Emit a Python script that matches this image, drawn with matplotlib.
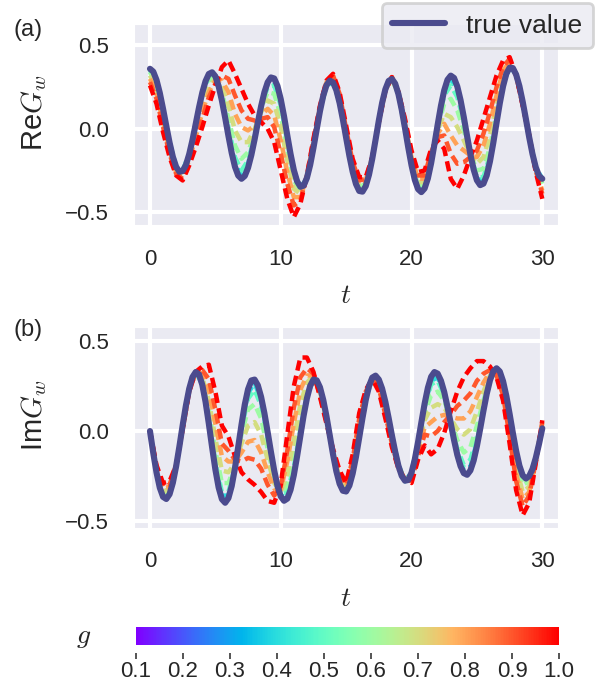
import matplotlib
matplotlib.use("Agg")
import matplotlib.pyplot as plt
import matplotlib.transforms as mtransforms
import seaborn as sns
import numpy as np

sns.set_style("darkgrid")
plt.rcParams["font.family"] = ["Liberation Sans", "DejaVu Sans"]
plt.rcParams["mathtext.fontset"] = "cm"

# time grids: fine one for the true value, coarser one for the dashed curves
t_fine = np.linspace(0, 30, 121)
t = np.linspace(0, 30, 61)

# colour parameter of the dashed curves
g_vals = [0.4, 0.5, 0.6, 0.7, 0.8, 0.9, 1.0]

# --- Re G_w ---
re_true = [0.360, 0.343, 0.293, 0.216, 0.120, 0.017, -0.083, -0.168, -0.228, -0.258,
           -0.253, -0.217, -0.152, -0.067, 0.030, 0.128, 0.217, 0.286, 0.329, 0.339,
           0.315, 0.256, 0.169, 0.066, -0.043, -0.145, -0.228, -0.281, -0.300, -0.283,
           -0.234, -0.158, -0.064, 0.038, 0.136, 0.219, 0.279, 0.308, 0.302, 0.257,
           0.178, 0.076, -0.039, -0.151, -0.247, -0.315, -0.348, -0.341, -0.295, -0.217,
           -0.115, -0.003, 0.106, 0.198, 0.262, 0.289, 0.278, 0.232, 0.155, 0.056,
           -0.054, -0.163, -0.258, -0.331, -0.373, -0.377, -0.344, -0.275, -0.179, -0.066,
           0.050, 0.155, 0.237, 0.287, 0.299, 0.271, 0.208, 0.115, 0.004, -0.112,
           -0.219, -0.306, -0.362, -0.380, -0.358, -0.298, -0.206, -0.094, 0.025, 0.138,
           0.231, 0.294, 0.319, 0.305, 0.254, 0.172, 0.069, -0.044, -0.153, -0.244,
           -0.309, -0.338, -0.329, -0.280, -0.195, -0.086, 0.035, 0.153, 0.255, 0.330,
           0.367, 0.364, 0.325, 0.256, 0.163, 0.057, -0.052, -0.151, -0.231, -0.282,
           -0.300]
re_g04 = [0.36, 0.28, 0.11, -0.08, -0.23, -0.25, -0.15, 0.02, 0.21, 0.32,
          0.32, 0.18, -0.02, -0.21, -0.28, -0.21, -0.05, 0.14, 0.27, 0.28,
          0.16, -0.06, -0.26, -0.35, -0.30, -0.12, 0.11, 0.26, 0.28, 0.16,
          -0.05, -0.26, -0.37, -0.34, -0.18, 0.05, 0.24, 0.30, 0.21, 0.00,
          -0.22, -0.36, -0.36, -0.21, 0.03, 0.22, 0.30, 0.23, 0.06, -0.15,
          -0.30, -0.31, -0.18, 0.05, 0.27, 0.37, 0.33, 0.16, -0.05, -0.23, -0.30]
re_g05 = [0.35, 0.28, 0.11, -0.09, -0.24, -0.26, -0.16, 0.02, 0.20, 0.31,
          0.31, 0.19, 0.01, -0.17, -0.25, -0.19, -0.05, 0.13, 0.25, 0.26,
          0.14, -0.08, -0.28, -0.36, -0.30, -0.11, 0.11, 0.26, 0.29, 0.17,
          -0.04, -0.25, -0.36, -0.33, -0.18, 0.05, 0.24, 0.30, 0.21, 0.01,
          -0.21, -0.35, -0.35, -0.20, 0.02, 0.20, 0.26, 0.19, 0.04, -0.15,
          -0.29, -0.29, -0.16, 0.07, 0.28, 0.38, 0.33, 0.16, -0.05, -0.23, -0.31]
re_g06 = [0.34, 0.26, 0.09, -0.10, -0.24, -0.26, -0.17, 0.00, 0.17, 0.29,
          0.31, 0.22, 0.06, -0.10, -0.18, -0.14, -0.03, 0.12, 0.22, 0.21,
          0.08, -0.13, -0.31, -0.37, -0.30, -0.11, 0.12, 0.27, 0.29, 0.17,
          -0.03, -0.24, -0.35, -0.33, -0.18, 0.05, 0.24, 0.30, 0.21, 0.01,
          -0.20, -0.34, -0.33, -0.19, 0.01, 0.15, 0.18, 0.11, -0.01, -0.15,
          -0.25, -0.24, -0.11, 0.10, 0.29, 0.38, 0.33, 0.16, -0.05, -0.24, -0.33]
re_g07 = [0.32, 0.23, 0.06, -0.12, -0.25, -0.27, -0.18, -0.03, 0.14, 0.25,
          0.30, 0.25, 0.14, -0.01, -0.08, -0.08, 0.00, 0.10, 0.17, 0.15,
          0.01, -0.19, -0.36, -0.39, -0.29, -0.10, 0.12, 0.27, 0.30, 0.18,
          -0.02, -0.23, -0.34, -0.32, -0.18, 0.05, 0.24, 0.30, 0.21, 0.02,
          -0.18, -0.32, -0.32, -0.17, -0.01, 0.09, 0.07, 0.01, -0.07, -0.16,
          -0.21, -0.17, -0.04, 0.15, 0.32, 0.39, 0.33, 0.15, -0.05, -0.24, -0.35]
re_g08 = [0.30, 0.21, 0.04, -0.13, -0.26, -0.28, -0.19, -0.05, 0.10, 0.22,
          0.29, 0.29, 0.22, 0.09, 0.01, -0.01, 0.02, 0.08, 0.12, 0.08,
          -0.07, -0.26, -0.41, -0.41, -0.29, -0.09, 0.13, 0.28, 0.31, 0.19,
          -0.01, -0.21, -0.32, -0.31, -0.17, 0.04, 0.23, 0.31, 0.22, 0.03,
          -0.17, -0.30, -0.30, -0.16, -0.03, 0.03, -0.04, -0.10, -0.13, -0.16,
          -0.17, -0.10, 0.03, 0.20, 0.35, 0.40, 0.32, 0.15, -0.04, -0.25, -0.37]
re_g09 = [0.28, 0.18, 0.01, -0.15, -0.27, -0.30, -0.20, -0.08, 0.06, 0.19,
          0.27, 0.32, 0.30, 0.20, 0.11, 0.06, 0.05, 0.06, 0.07, 0.01,
          -0.15, -0.33, -0.46, -0.43, -0.28, -0.07, 0.13, 0.28, 0.32, 0.21,
          0.00, -0.20, -0.31, -0.30, -0.17, 0.04, 0.23, 0.31, 0.22, 0.05,
          -0.15, -0.28, -0.28, -0.14, -0.05, -0.04, -0.15, -0.21, -0.20, -0.17,
          -0.13, -0.03, 0.10, 0.25, 0.37, 0.42, 0.32, 0.14, -0.04, -0.25, -0.39]
re_g10 = [0.26, 0.15, -0.02, -0.17, -0.28, -0.31, -0.22, -0.11, 0.01, 0.14,
          0.26, 0.37, 0.41, 0.33, 0.24, 0.15, 0.08, 0.04, 0.00, -0.08,
          -0.25, -0.42, -0.53, -0.45, -0.28, -0.06, 0.14, 0.29, 0.33, 0.22,
          0.02, -0.18, -0.29, -0.29, -0.17, 0.04, 0.23, 0.31, 0.22, 0.06,
          -0.13, -0.26, -0.25, -0.12, -0.07, -0.12, -0.30, -0.36, -0.28, -0.17,
          -0.07, 0.06, 0.19, 0.32, 0.41, 0.43, 0.32, 0.14, -0.04, -0.26, -0.42]

# --- Im G_w ---
im_true = [0.000, -0.122, -0.231, -0.316, -0.367, -0.379, -0.352, -0.289, -0.197, -0.086,
           0.032, 0.143, 0.236, 0.301, 0.329, 0.316, 0.258, 0.163, 0.041, -0.090,
           -0.214, -0.315, -0.380, -0.400, -0.374, -0.307, -0.207, -0.087, 0.036, 0.148,
           0.233, 0.282, 0.287, 0.255, 0.190, 0.100, -0.006, -0.116, -0.220, -0.306,
           -0.364, -0.389, -0.377, -0.328, -0.246, -0.141, -0.027, 0.086, 0.182, 0.252,
           0.287, 0.283, 0.244, 0.174, 0.081, -0.025, -0.131, -0.224, -0.294, -0.333,
           -0.337, -0.304, -0.237, -0.145, -0.037, 0.072, 0.173, 0.251, 0.298, 0.309,
           0.287, 0.237, 0.163, 0.073, -0.024, -0.115, -0.194, -0.250, -0.277, -0.273,
           -0.232, -0.158, -0.061, 0.047, 0.152, 0.241, 0.303, 0.329, 0.320, 0.281,
           0.218, 0.135, 0.043, -0.050, -0.133, -0.196, -0.235, -0.244, -0.220, -0.165,
           -0.084, 0.012, 0.113, 0.207, 0.283, 0.333, 0.350, 0.332, 0.278, 0.196,
           0.096, -0.011, -0.111, -0.193, -0.247, -0.265, -0.251, -0.212, -0.150, -0.072,
           0.015]
im_g04 = [0.00, -0.23, -0.37, -0.35, -0.20, 0.03, 0.24, 0.33, 0.26, 0.05,
          -0.19, -0.36, -0.36, -0.21, 0.03, 0.21, 0.27, 0.17, -0.03, -0.23,
          -0.36, -0.37, -0.23, -0.01, 0.19, 0.29, 0.24, 0.08, -0.13, -0.29,
          -0.34, -0.24, -0.03, 0.17, 0.30, 0.29, 0.16, -0.02, -0.19, -0.28,
          -0.23, -0.06, 0.14, 0.28, 0.30, 0.21, 0.04, -0.12, -0.22, -0.20,
          -0.06, 0.12, 0.28, 0.35, 0.28, 0.09, -0.12, -0.26, -0.26, -0.15, 0.02]
im_g05 = [0.00, -0.23, -0.36, -0.34, -0.20, 0.03, 0.24, 0.33, 0.27, 0.07,
          -0.17, -0.34, -0.34, -0.20, 0.01, 0.18, 0.23, 0.14, -0.05, -0.24,
          -0.35, -0.34, -0.20, 0.01, 0.20, 0.29, 0.24, 0.08, -0.13, -0.28,
          -0.33, -0.23, -0.03, 0.18, 0.30, 0.28, 0.15, -0.03, -0.19, -0.28,
          -0.24, -0.07, 0.13, 0.26, 0.28, 0.20, 0.05, -0.10, -0.19, -0.16,
          -0.03, 0.14, 0.29, 0.35, 0.27, 0.08, -0.13, -0.27, -0.27, -0.15, 0.02]
im_g06 = [0.00, -0.22, -0.35, -0.33, -0.20, 0.03, 0.24, 0.33, 0.28, 0.12,
          -0.11, -0.29, -0.29, -0.19, -0.02, 0.12, 0.15, 0.07, -0.10, -0.26,
          -0.35, -0.30, -0.14, 0.07, 0.23, 0.30, 0.23, 0.07, -0.12, -0.27,
          -0.33, -0.21, -0.01, 0.18, 0.30, 0.27, 0.14, -0.04, -0.19, -0.28,
          -0.24, -0.08, 0.10, 0.20, 0.22, 0.17, 0.06, -0.05, -0.12, -0.09,
          0.03, 0.17, 0.30, 0.34, 0.25, 0.06, -0.16, -0.30, -0.28, -0.16, 0.03]
im_g07 = [0.00, -0.21, -0.34, -0.32, -0.20, 0.02, 0.23, 0.33, 0.30, 0.17,
          -0.04, -0.22, -0.23, -0.18, -0.07, 0.03, 0.05, -0.02, -0.16, -0.29,
          -0.34, -0.24, -0.05, 0.15, 0.27, 0.31, 0.22, 0.06, -0.12, -0.26,
          -0.32, -0.20, 0.02, 0.19, 0.30, 0.26, 0.12, -0.05, -0.20, -0.28,
          -0.25, -0.10, 0.06, 0.13, 0.15, 0.13, 0.07, 0.01, -0.02, 0.01,
          0.11, 0.22, 0.31, 0.33, 0.24, 0.03, -0.20, -0.34, -0.31, -0.16, 0.04]
im_g08 = [0.00, -0.21, -0.32, -0.31, -0.19, 0.02, 0.23, 0.33, 0.32, 0.23,
          0.04, -0.14, -0.17, -0.17, -0.12, -0.06, -0.05, -0.12, -0.23, -0.32,
          -0.33, -0.17, 0.04, 0.23, 0.31, 0.31, 0.21, 0.06, -0.11, -0.25,
          -0.31, -0.18, 0.04, 0.20, 0.29, 0.25, 0.11, -0.06, -0.20, -0.27,
          -0.26, -0.12, 0.02, 0.05, 0.08, 0.09, 0.08, 0.07, 0.07, 0.11,
          0.19, 0.27, 0.33, 0.32, 0.22, 0.00, -0.24, -0.38, -0.34, -0.17, 0.04]
im_g09 = [0.00, -0.20, -0.31, -0.30, -0.19, 0.01, 0.22, 0.33, 0.34, 0.29,
          0.12, -0.07, -0.11, -0.16, -0.17, -0.15, -0.16, -0.21, -0.30, -0.36,
          -0.31, -0.11, 0.13, 0.30, 0.35, 0.32, 0.20, 0.05, -0.11, -0.24,
          -0.30, -0.16, 0.07, 0.22, 0.29, 0.24, 0.09, -0.07, -0.21, -0.27,
          -0.28, -0.14, -0.02, -0.03, 0.00, 0.05, 0.09, 0.14, 0.17, 0.21,
          0.28, 0.32, 0.34, 0.31, 0.20, -0.03, -0.28, -0.42, -0.36, -0.17, 0.05]
im_g10 = [0.00, -0.19, -0.29, -0.28, -0.19, 0.01, 0.22, 0.33, 0.36, 0.37,
          0.22, 0.03, -0.03, -0.14, -0.23, -0.27, -0.30, -0.34, -0.39, -0.40,
          -0.30, -0.02, 0.25, 0.41, 0.41, 0.33, 0.19, 0.04, -0.10, -0.22,
          -0.29, -0.13, 0.10, 0.23, 0.29, 0.22, 0.07, -0.09, -0.21, -0.27,
          -0.29, -0.16, -0.08, -0.13, -0.10, -0.01, 0.11, 0.22, 0.30, 0.35,
          0.39, 0.39, 0.36, 0.30, 0.17, -0.07, -0.33, -0.47, -0.40, -0.18, 0.06]

re_curves = [re_g04, re_g05, re_g06, re_g07, re_g08, re_g09, re_g10]
im_curves = [im_g04, im_g05, im_g06, im_g07, im_g08, im_g09, im_g10]

cmap = plt.get_cmap("rainbow")
norm = matplotlib.colors.Normalize(vmin=0.1, vmax=1.0)
true_color = "#4b4b8e"

fig = plt.figure(figsize=(5.98, 6.88), dpi=100)
ax1 = fig.add_axes([0.2241, 0.6730, 0.7090, 0.2922])
ax2 = fig.add_axes([0.2241, 0.2330, 0.7090, 0.2922])
cax = fig.add_axes([0.2274, 0.0625, 0.7074, 0.0262])

for ax, curves, truth, lab, ylim in [
        (ax1, re_curves, re_true, r"Re$G_w$", (-0.577, 0.629)),
        (ax2, im_curves, im_true, r"Im$G_w$", (-0.539, 0.582))]:
    for g, vals in zip(g_vals, curves):
        ax.plot(t, vals, color=cmap(norm(g)), lw=3.2, dashes=(2.3, 1.2))
    line, = ax.plot(t_fine, truth, color=true_color, lw=4.4, label="true value")
    ax.set_xlim(-1.22, 31.2)
    ax.set_ylim(*ylim)
    ax.set_xticks([0, 10, 20, 30])
    ax.set_yticks([-0.5, 0.0, 0.5])
    ax.grid(color="white", linewidth=3)
    ax.tick_params(axis="x", length=0, pad=17, labelsize=16)
    ax.tick_params(axis="y", length=0, pad=18, labelsize=16)
    ax.set_xlabel(r"$t$", fontsize=20)
    ax.set_ylabel(lab, fontsize=21)
    ax.xaxis.set_label_coords(0.5, -0.29)
    ax.yaxis.set_label_coords(-0.2, 0.56)

fig.text(0.022, 1 - 30 / 688, "(a)", fontsize=17, va="center")
fig.text(0.022, 1 - 330 / 688, "(b)", fontsize=17, va="center")

leg = fig.legend(handles=[line], loc="upper right", bbox_to_anchor=(0.9916, 0.9956),
                 borderaxespad=0, fontsize=19, frameon=True, facecolor="#EAEAF2",
                 edgecolor="0.8", framealpha=0.8)
leg.get_frame().set_linewidth(2)

sm = matplotlib.cm.ScalarMappable(norm=norm, cmap=cmap)
cb = fig.colorbar(sm, cax=cax, orientation="horizontal")
cb.outline.set_visible(False)
cb.set_ticks([0.1, 0.2, 0.3, 0.4, 0.5, 0.6, 0.7, 0.8, 0.9, 1.0])
cax.tick_params(axis="x", direction="out", length=4.3, width=1.1,
                color="0.15", pad=7.2, labelsize=16)
offset = mtransforms.ScaledTranslation(0, -8 / 100, fig.dpi_scale_trans)
for tick in cax.xaxis.get_major_ticks():
    tick.tick1line.set_transform(tick.tick1line.get_transform() + offset)
fig.text(84 / 598, 1 - 637 / 688, r"$g$", fontsize=20, ha="center", va="center")

fig.savefig("out.png", dpi=100)
